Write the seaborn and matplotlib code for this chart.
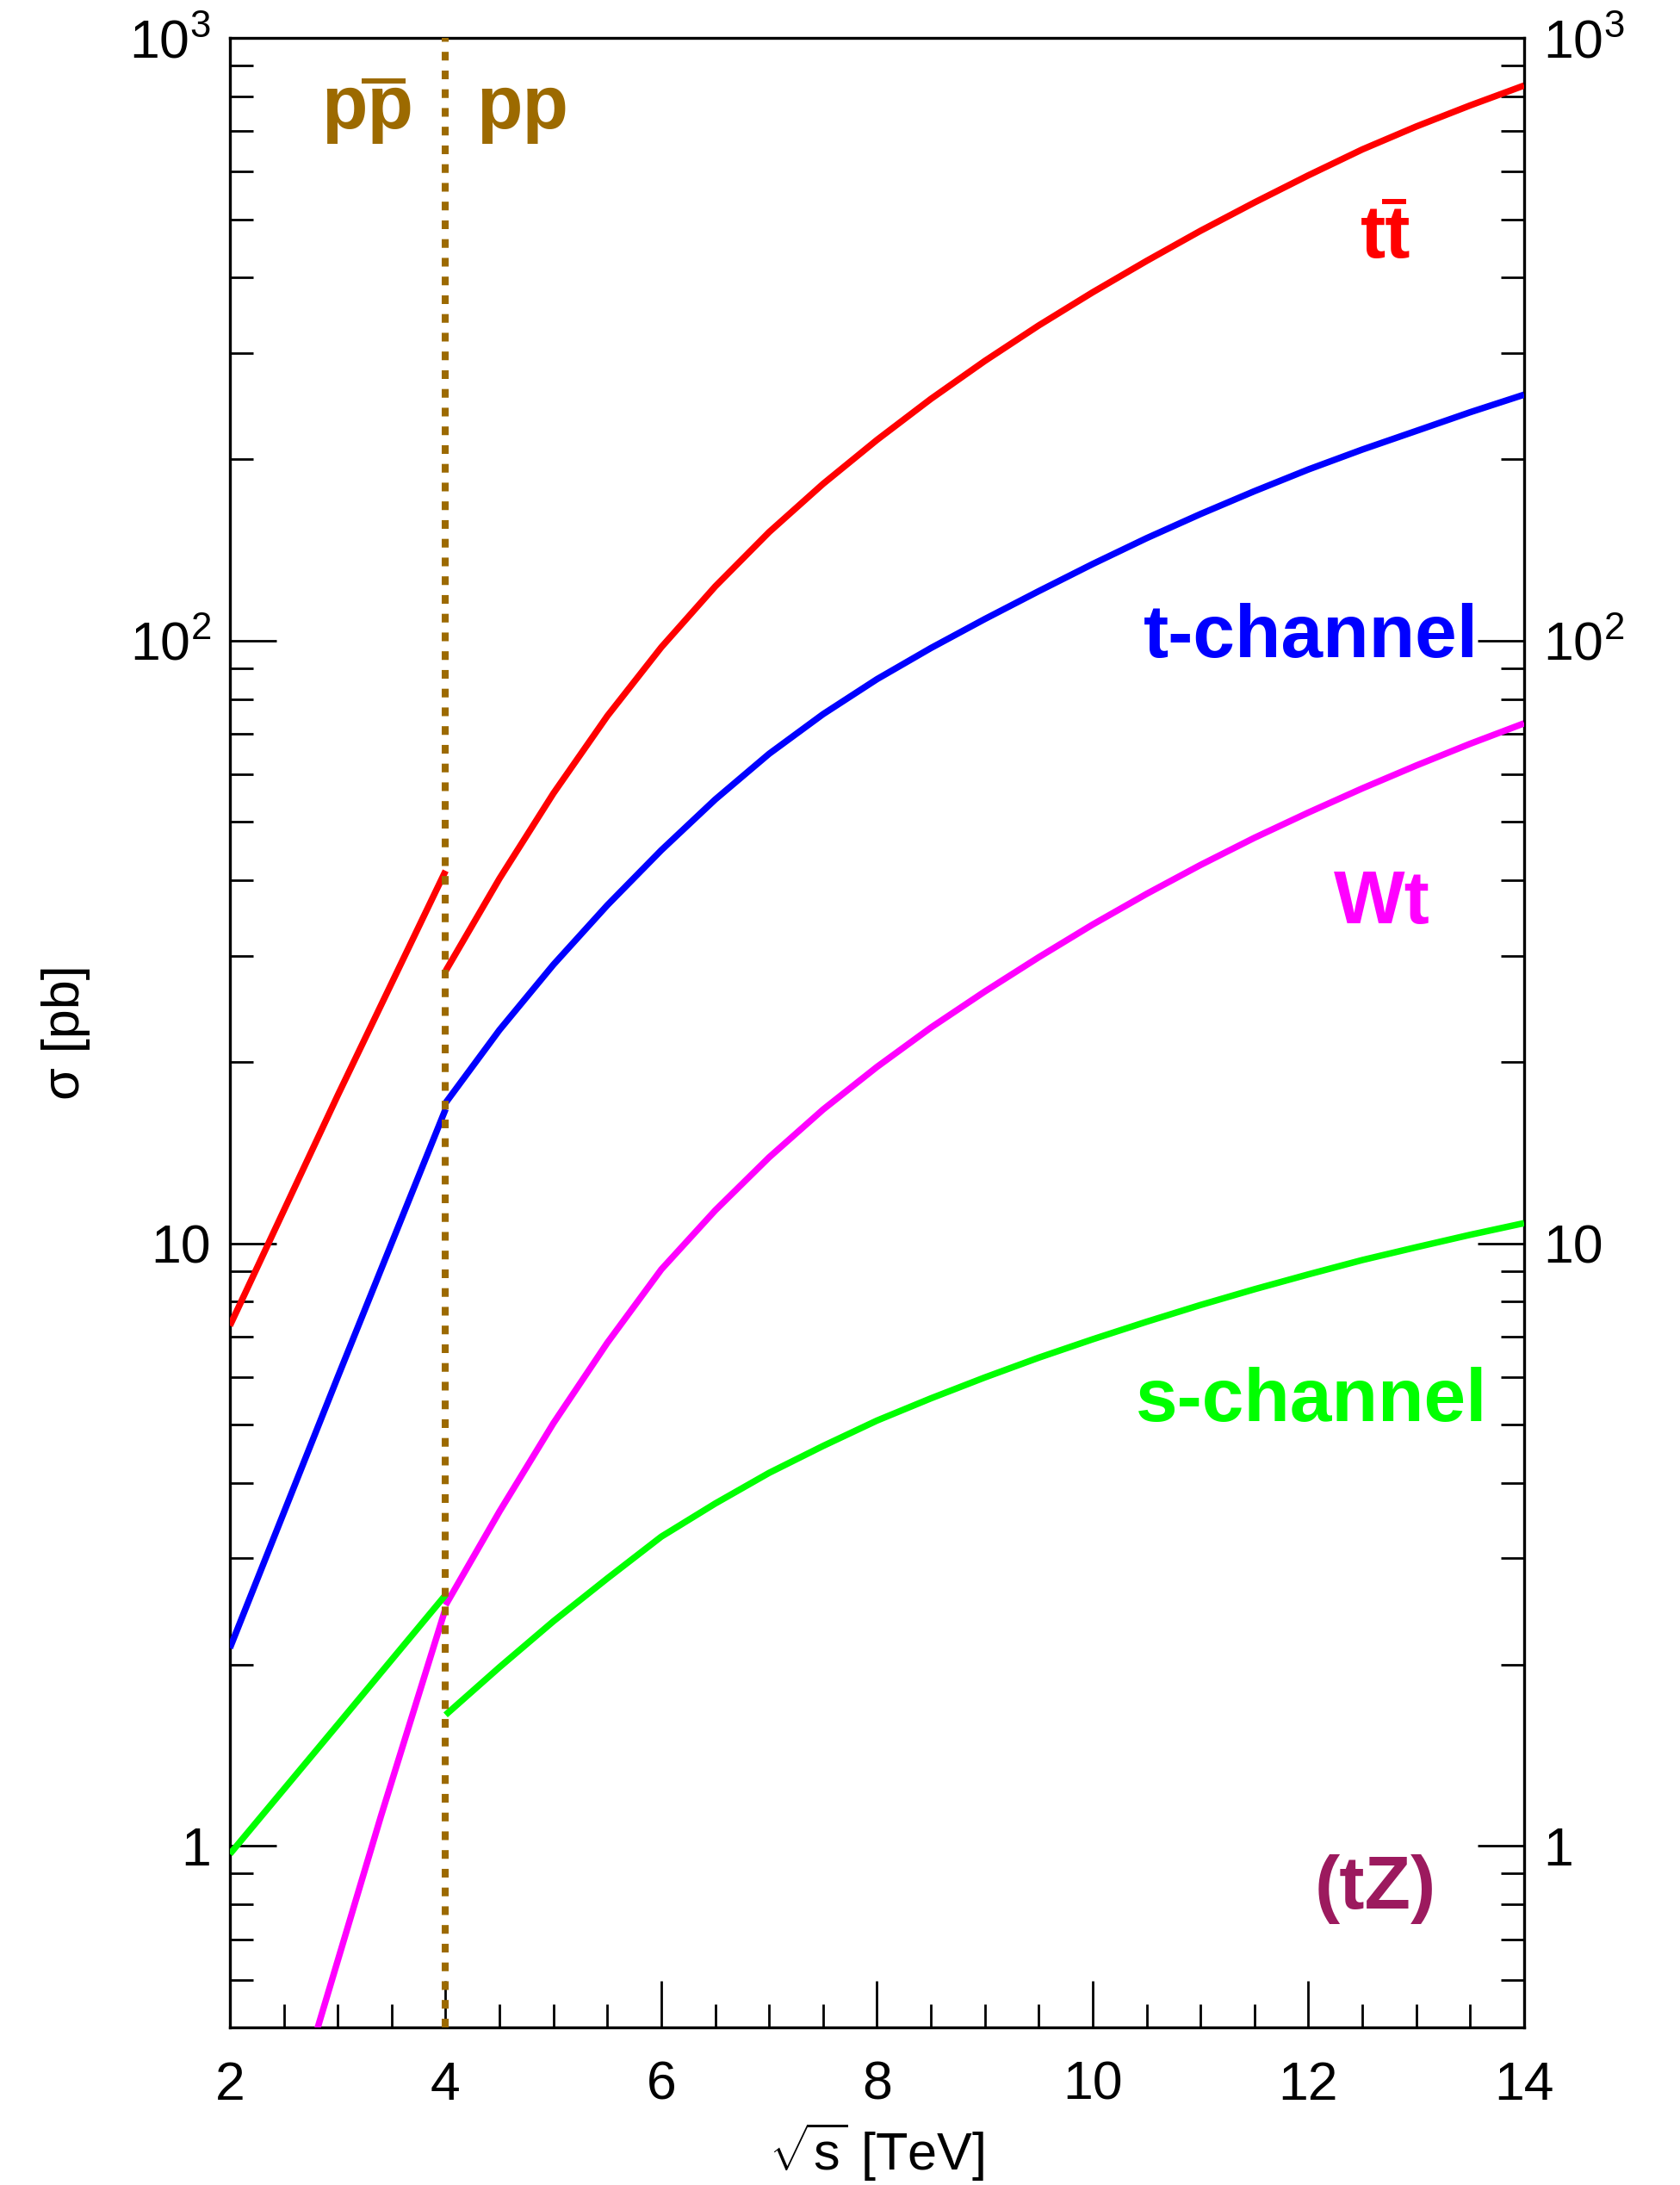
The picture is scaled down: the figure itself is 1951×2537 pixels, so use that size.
import numpy as np
import pandas as pd
import matplotlib
matplotlib.use("Agg")
import matplotlib.pyplot as plt
import seaborn as sns
from matplotlib.lines import Line2D
from matplotlib.ticker import (FixedLocator, MultipleLocator, LogLocator,
                               NullFormatter, FuncFormatter)

# centre-of-mass energy sampling points [TeV]
sqrt_s_ppbar = [2.0, 3.0, 4.0]
sqrt_s_wt_ppbar = [2.8, 3.4, 4.0]
sqrt_s_pp = [4.0, 4.5, 5.0, 5.5, 6.0, 6.5, 7.0, 7.5, 8.0, 8.5, 9.0,
             9.5, 10.0, 10.5, 11.0, 11.5, 12.0, 12.5, 13.0, 13.5, 14.0]

# top-quark production cross sections [pb]
ttbar_ppbar = [7.3, 17.6, 41.5]
ttbar_pp = [28.3, 40.3, 55.8, 75.0, 97.5, 123.0, 151.4, 182.0, 215.3, 251.8, 291.1,
            333.4, 378.4, 426.6, 478.6, 533.3, 591.6, 653.1, 712.9, 772.7, 833.7]
tchan_ppbar = [2.13, 6.0, 16.7]
tchan_pp = [17.1, 22.6, 29.0, 36.4, 44.9, 54.5, 64.9, 75.5, 86.3, 97.2, 108.6,
            120.8, 134.0, 147.9, 162.2, 177.0, 192.3, 207.5, 222.8, 239.3, 255.9]
wt_ppbar = [0.49, 1.12, 2.48]
wt_pp = [2.51, 3.59, 5.03, 6.84, 9.05, 11.34, 13.89, 16.67, 19.62, 22.80, 26.17,
         29.83, 33.80, 38.00, 42.44, 47.08, 51.85, 56.86, 62.05, 67.43, 72.90]
schan_ppbar = [0.97, 1.59, 2.61]
schan_pp = [1.65, 1.98, 2.36, 2.78, 3.26, 3.70, 4.16, 4.61, 5.08, 5.53, 5.99,
            6.46, 6.93, 7.41, 7.90, 8.39, 8.88, 9.38, 9.85, 10.33, 10.80]

processes = ["ttbar", "tchan", "wt", "schan"]
colors = {"ttbar": "#ff0000", "tchan": "#0000ff", "wt": "#ff00ff", "schan": "#00ff00"}
collider_colour = "#9c6a00"
tz_colour = "#9c1a5e"

frames = []
for proc, xs_a, ys_a, ys_b in [
    ("ttbar", sqrt_s_ppbar, ttbar_ppbar, ttbar_pp),
    ("tchan", sqrt_s_ppbar, tchan_ppbar, tchan_pp),
    ("wt", sqrt_s_wt_ppbar, wt_ppbar, wt_pp),
    ("schan", sqrt_s_ppbar, schan_ppbar, schan_pp),
]:
    frames.append(pd.DataFrame({"sqrt_s": xs_a, "sigma": ys_a,
                                "process": proc, "beam": "ppbar"}))
    frames.append(pd.DataFrame({"sqrt_s": sqrt_s_pp, "sigma": ys_b,
                                "process": proc, "beam": "pp"}))
df = pd.concat(frames, ignore_index=True)

sns.set_theme(style="white")
plt.rcParams["font.family"] = ["Liberation Sans", "DejaVu Sans"]
plt.rcParams["mathtext.fontset"] = "custom"
plt.rcParams["mathtext.rm"] = "Liberation Sans"
plt.rcParams["mathtext.it"] = "Liberation Sans:italic"
plt.rcParams["mathtext.bf"] = "Liberation Sans:bold"

fig = plt.figure(figsize=(19.51, 25.37), dpi=100)
ax = fig.add_axes([0.13685, 0.07213, 0.77037, 0.91052])

for proc in processes:
    for beam in ["ppbar", "pp"]:
        sub = df[(df.process == proc) & (df.beam == beam)]
        sns.lineplot(data=sub, x="sqrt_s", y="sigma", color=colors[proc],
                     linewidth=5.4, estimator=None, sort=False, ax=ax,
                     solid_capstyle="butt", solid_joinstyle="round", zorder=3)

ax.set_yscale("log")
ax.set_xlim(2, 14)
ax.set_ylim(0.5, 1000)

# boundary between Tevatron (p pbar) and LHC (pp)
ax.axvline(4.0, color=collider_colour, linewidth=5.8, dashes=(1.25, 1.45),
           dash_capstyle="butt", zorder=4)

# axes frame and ticks
for side in ["left", "right", "top", "bottom"]:
    ax.spines[side].set_linewidth(2.4)
    ax.spines[side].set_color("black")
    ax.spines[side].set_visible(True)

ax.xaxis.set_major_locator(MultipleLocator(2))
ax.xaxis.set_minor_locator(MultipleLocator(0.5))
ax.xaxis.set_major_formatter(FuncFormatter(lambda v, p: f"{v:g}"))

ax.yaxis.set_major_locator(FixedLocator([1, 10, 100, 1000]))
ax.yaxis.set_minor_locator(LogLocator(base=10, subs=np.arange(2, 10), numticks=100))
ax.yaxis.set_minor_formatter(NullFormatter())
ylabels = {1: "1", 10: "10", 100: "$10^{2}$", 1000: "$10^{3}$"}
ax.yaxis.set_major_formatter(FuncFormatter(lambda v, p: ylabels.get(int(round(v)), "")))

ax.tick_params(axis="both", which="both", direction="in", colors="black",
               top=False, bottom=True, left=True, right=True,
               labelright=True, labelleft=True, labelsize=45)
ax.tick_params(axis="both", which="major", length=39, width=2.0)
ax.tick_params(axis="both", which="minor", length=19.5, width=2.0)
ax.tick_params(axis="x", which="major", pad=27)
ax.tick_params(axis="y", which="major", pad=16)

ax.set_xlabel(r"$\sqrt{\mathrm{s}}$ [TeV]", fontsize=44, color="black")
ax.xaxis.set_label_coords(0.5, -0.047)
ax.set_ylabel("σ [pb]", fontsize=44, color="black")
ax.yaxis.set_label_coords(-0.108, 0.5)

# process and collider annotations
text_kw = dict(fontsize=63, fontweight="bold", ha="left", va="baseline", zorder=5)
ppbar_txt = ax.text(2.846, 707, "pp", color=collider_colour, **text_kw)
ax.text(4.289, 707, "pp", color=collider_colour, **text_kw)
ttbar_txt = ax.text(12.479, 432, "tt", color=colors["ttbar"], **text_kw)
ax.text(10.467, 93.8, "t-channel", color=colors["tchan"], **text_kw)
ax.text(12.236, 34.0, "Wt", color=colors["wt"], **text_kw)
ax.text(10.399, 5.07, "s-channel", color=colors["schan"], **text_kw)
ax.text(12.057, 0.787, "(tZ)", color=tz_colour, **text_kw)


def antiparticle_bar(txt, start_em, end_em, height_em, color):
    """Overline the second of two identical glyphs in a label."""
    renderer = fig.canvas.get_renderer()
    bb = txt.get_window_extent(renderer=renderer)
    em = txt.get_fontsize() * fig.dpi / 72.0
    _, y_base = ax.transData.transform(txt.get_position())
    x0 = bb.x0 + bb.width / 2 + start_em * em
    x1 = bb.x1 + end_em * em
    y = y_base + height_em * em
    W, H = fig.bbox.width, fig.bbox.height
    fig.add_artist(Line2D([x0 / W, x1 / W], [y / H, y / H], transform=fig.transFigure,
                          color=color, linewidth=4.3, solid_capstyle="butt"))


antiparticle_bar(ppbar_txt, -0.074, -0.106, 0.634, collider_colour)
antiparticle_bar(ttbar_txt, -0.04, -0.055, 0.74, colors["ttbar"])

fig.savefig("out.png", dpi=100)
